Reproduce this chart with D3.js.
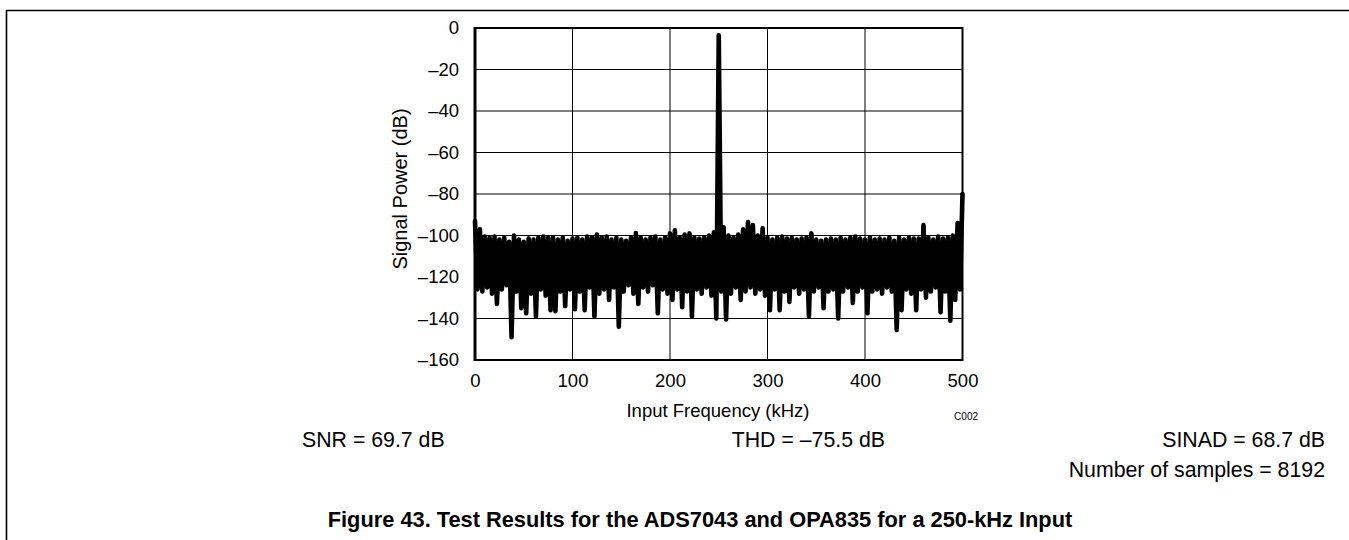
<!DOCTYPE html>
<html>
<head>
<meta charset="utf-8">
<script src="https://cdn.jsdelivr.net/npm/d3@7"></script>
<style>
  html, body { margin: 0; padding: 0; background: #fff; }
  svg { display: block; }
  text { font-family: "Liberation Sans", Arial, Helvetica, sans-serif; fill: #000; }
</style>
</head>
<body>
<svg id="chart" width="1349" height="540"></svg>
<script>
// FFT spectrum, one value every 2.5 kHz (peaks and troughs of the noise floor alternate)
const binKHz = 2.5;
const spectrumDb = [
  -93, -126, -97, -127, -100.5, -125, -101, -128, -100.5, -133,
  -102, -126, -101, -124, -103, -149, -100, -127, -102, -135,
  -103, -137.5, -101.5, -128, -102, -139, -101, -126, -100.5, -129,
  -101, -136, -101, -136.5, -102, -127, -101, -134, -102.5, -126,
  -101.5, -135.5, -101, -127, -102, -136, -100.5, -125, -101, -139,
  -99.5, -128, -101, -126, -100.5, -131, -102, -125, -101, -144,
  -102, -127, -102.5, -124, -101, -128, -98.8, -133, -101, -125,
  -102, -127, -101, -124, -100.5, -137.5, -102, -126, -101, -128,
  -99, -131, -97.5, -126, -101, -134.5, -99.5, -127, -99, -139,
  -101, -126, -101.5, -128, -101, -125, -100, -129, -98.5, -140,
  -3.5, -127, -96, -140.5, -100, -128, -101, -125, -99.5, -131,
  -97, -127, -93.5, -125, -95, -128, -100, -126, -96.5, -129,
  -101, -136, -102, -126, -101, -136, -100.5, -127, -101.5, -132,
  -101, -125, -102, -128, -101.5, -126, -101, -139, -99, -127,
  -102, -125, -102.5, -135, -102, -127, -101.5, -126, -102, -140,
  -101, -127, -102, -125, -101, -132.5, -100.5, -127, -101.5, -125,
  -102, -137.5, -101, -127, -102, -126, -101.5, -128, -102, -125,
  -101, -127, -102.5, -145.5, -101, -136, -102, -126, -101, -128,
  -101.5, -136, -101.5, -126, -95, -130, -101, -127, -102, -125,
  -100.5, -137, -101.5, -127, -101, -141, -100, -131, -94, -126,
  -80
];

const xTicks = [0, 100, 200, 300, 400, 500];
const yTicks = [0, -20, -40, -60, -80, -100, -120, -140, -160];
const xDomain = [0, 500];
const yDomain = [-160, 0];

const xTitle = "Input Frequency (kHz)";
const yTitle = "Signal Power (dB)";
const chartCode = "C002";
const statsLeft = "SNR = 69.7 dB";
const statsMid = "THD = \u201375.5 dB";
const statsRight = "SINAD = 68.7 dB";
const statsSamples = "Number of samples = 8192";
const caption = "Figure 43. Test Results for the ADS7043 and OPA835 for a 250-kHz Input";

const fmtDb = v => (v < 0 ? "\u2013" + Math.abs(v) : String(v));

const svg = d3.select("#chart");

// page frame
svg.append("line").attr("x1", 6).attr("x2", 1349).attr("y1", 10.5).attr("y2", 10.5)
  .attr("stroke", "#000").attr("stroke-width", 1.6);
svg.append("line").attr("x1", 6.5).attr("x2", 6.5).attr("y1", 10).attr("y2", 540)
  .attr("stroke", "#000").attr("stroke-width", 1.6);

const plot = { left: 475, right: 962.5, top: 28, bottom: 360 };
const x = d3.scaleLinear().domain(xDomain).range([plot.left, plot.right]);
const y = d3.scaleLinear().domain(yDomain).range([plot.bottom, plot.top]);

// grid
const grid = svg.append("g");
grid.selectAll("line.v").data(xTicks.slice(1, -1)).join("line")
  .attr("x1", d => x(d)).attr("x2", d => x(d))
  .attr("y1", plot.top).attr("y2", plot.bottom)
  .attr("stroke", "#000").attr("stroke-width", 1);
grid.selectAll("line.h").data(yTicks.slice(1, -1)).join("line")
  .attr("x1", plot.left).attr("x2", plot.right)
  .attr("y1", d => y(d)).attr("y2", d => y(d))
  .attr("stroke", "#000").attr("stroke-width", 1);

// spectrum trace
const line = d3.line()
  .x((d, i) => x(i * binKHz))
  .y(d => y(d));
svg.append("path")
  .datum(spectrumDb)
  .attr("d", line)
  .attr("fill", "none")
  .attr("stroke", "#000")
  .attr("stroke-width", 4.6)
  .attr("stroke-linejoin", "round")
  .attr("stroke-linecap", "round");

// plot frame
svg.append("rect")
  .attr("x", plot.left).attr("y", plot.top)
  .attr("width", plot.right - plot.left).attr("height", plot.bottom - plot.top)
  .attr("fill", "none").attr("stroke", "#000").attr("stroke-width", 2);
svg.append("line")
  .attr("x1", plot.left).attr("x2", plot.left)
  .attr("y1", plot.top - 1).attr("y2", plot.bottom + 1)
  .attr("stroke", "#000").attr("stroke-width", 3);

// axes (tick labels only)
const yAxis = d3.axisLeft(y).tickValues(yTicks).tickFormat(fmtDb).tickSize(0).tickPadding(16);
const gy = svg.append("g").attr("transform", `translate(${plot.left},0)`).call(yAxis);
gy.select(".domain").remove();
gy.selectAll("text").style("font-size", "18.5px").style("font-family", "'Liberation Sans', Arial, sans-serif");

const xAxis = d3.axisBottom(x).tickValues(xTicks).tickFormat(d => String(d)).tickSize(0).tickPadding(14);
const gx = svg.append("g").attr("transform", `translate(0,${plot.bottom})`).call(xAxis);
gx.select(".domain").remove();
gx.selectAll("text").style("font-size", "18.5px").style("font-family", "'Liberation Sans', Arial, sans-serif");

// titles
svg.append("text")
  .attr("transform", `translate(407,189) rotate(-90)`)
  .attr("text-anchor", "middle")
  .style("font-size", "20px")
  .text(yTitle);
svg.append("text")
  .attr("x", 718).attr("y", 417)
  .attr("text-anchor", "middle")
  .style("font-size", "18.5px")
  .text(xTitle);
svg.append("text")
  .attr("x", 978).attr("y", 420)
  .attr("text-anchor", "end")
  .style("font-size", "10px")
  .text(chartCode);

// measurement summary
const statSize = "21.3px";
svg.append("text").attr("x", 302).attr("y", 447).style("font-size", statSize).text(statsLeft);
svg.append("text").attr("x", 885).attr("y", 447).attr("text-anchor", "end").style("font-size", statSize).text(statsMid);
svg.append("text").attr("x", 1325).attr("y", 447).attr("text-anchor", "end").style("font-size", statSize).text(statsRight);
svg.append("text").attr("x", 1325).attr("y", 477).attr("text-anchor", "end").style("font-size", statSize).text(statsSamples);

// caption
svg.append("text")
  .attr("x", 700).attr("y", 527)
  .attr("text-anchor", "middle")
  .style("font-size", "21.8px").style("font-weight", "bold")
  .text(caption);
</script>
</body>
</html>
